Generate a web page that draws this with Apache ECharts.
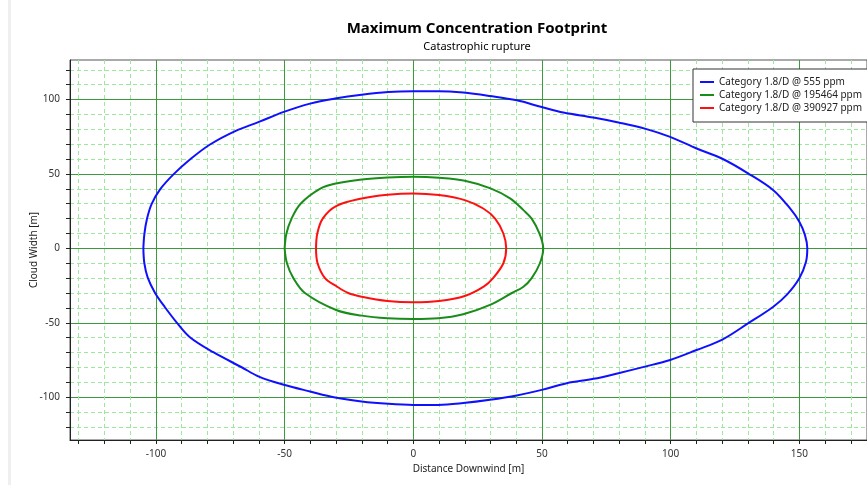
<!DOCTYPE html>
<html>
<head>
<meta charset="utf-8">
<script src="https://cdn.jsdelivr.net/npm/echarts@6/dist/echarts.min.js"></script>
<style>html,body{margin:0;padding:0;background:#fff;}#c{width:867px;height:485px;}</style>
</head>
<body>
<div id="c"></div>
<script>
const seriesNames = ['Category 1.8/D @ 555 ppm', 'Category 1.8/D @ 195464 ppm', 'Category 1.8/D @ 390927 ppm'];
const xTickValues = [-130,-120,-110,-100,-90,-80,-70,-60,-50,-40,-30,-20,-10,0,10,20,30,40,50,60,70,80,90,100,110,120,130,140,150,160,170];
const xLabelValues = [-100,-50,0,50,100,150];
const yTickValues = [-120,-110,-100,-90,-80,-70,-60,-50,-40,-30,-20,-10,0,10,20,30,40,50,60,70,80,90,100,110,120];
const yLabelValues = [-100,-50,0,50,100];

const blueX = [-104.9,-104.5,-103.5,-101.7,-98.4,-93.2,-86.8,-79,-69,-60,-50.3,-40.1,-30.4,-20.1,-9.7,0,9.7,19.4,29.8,40.2,49.9,58.3,70,79.7,90,99.8,110.1,119.9,130.2,139.9,146.4,150,152.2,153.1,152.6,150,145.1,139.9,130.2,119.9,110.1,99.8,90,79.7,70,59.6,49.9,40.2,29.8,19.4,9.7,0,-9.7,-20.1,-30.4,-40.1,-50.3,-60,-66.7,-77.7,-86.8,-92,-96.5,-100.4,-103.2,-104.5,-104.9];
const blueY = [0,9.6,19.7,29.7,39.6,49.7,59.7,69.8,79,85,91.7,97.3,100.7,103.3,105.1,105.6,105.6,104.7,102.4,99.5,95,91.3,87.9,84.6,80.5,74.9,67.1,60.4,50.3,39.1,26.8,17.9,8.9,0,-9,-20.1,-31.3,-39.2,-50.3,-61.5,-68.3,-75,-79.5,-83.9,-87.7,-90.6,-95.1,-98.9,-101.8,-104,-105.2,-105.2,-104.5,-102.9,-100.2,-96.2,-91.7,-86.2,-79.9,-69.8,-59.7,-49.7,-39.6,-29.8,-19.7,-10.1,0];
const greenX = [-50,-49.3,-47.3,-43.8,-36.3,-30,-20,-10,0,10,20,30,37.6,42.8,46,49,50.5,49.2,46,42.8,38.3,29.8,19.4,9.7,0,-10,-20,-30,-42.1,-46.6,-49.1,-50];
const greenY = [0,10,20,30,40,43.6,46.3,47.6,48.1,47.4,45.4,40.3,33.6,25.7,20,10,0,-10,-20,-25.8,-30,-38,-44.3,-47,-47.5,-47,-45.2,-41.4,-30,-20,-10,0];
const redX = [-37.8,-37.3,-35.2,-30,-20,-10,0,10,20,27.2,31.8,35,36.1,35,31,27.5,20,10,0,-10,-20,-25.3,-30,-34.3,-37.2,-37.8];
const redY = [0,10,20,28.4,33.5,36,36.9,35.8,32.4,26.8,20,10,0,-10,-20,-25.5,-32,-35.4,-36.3,-35.4,-32.5,-30,-25.3,-20,-10,0];

const zip = (xs, ys) => xs.map((x, i) => [x, ys[i]]);
const FONT = 'Noto Sans';
const X_MIN = -133.4, X_MAX = 176.3, Y_MIN = -128.8, Y_MAX = 126.6;

const chart = echarts.init(document.getElementById('c'));
const mkLine = (name, data, color) => ({
  name, type: 'line', data, xAxisIndex: 0, yAxisIndex: 0,
  symbol: 'none', smooth: 0.35, lineStyle: { color, width: 2 }, itemStyle: { color },
  z: 5, animation: false
});
chart.setOption({
  backgroundColor: '#fff',
  animation: false,
  textStyle: { fontFamily: FONT },
  graphic: [{ type: 'rect', shape: { x: 8, y: 0, width: 3, height: 485 }, style: { fill: '#efefef' }, silent: true }],
  title: [
    { text: 'Maximum Concentration Footprint', left: 472, top: 16, textAlign: 'center',
      textStyle: { fontFamily: FONT, fontSize: 15, fontWeight: 'bold', color: '#000' } },
    { text: 'Catastrophic rupture', left: 472, top: 36, textAlign: 'center',
      textStyle: { fontFamily: FONT, fontSize: 11, fontWeight: 'normal', color: '#000' } }
  ],
  legend: {
    orient: 'vertical', left: 693, top: 69,
    data: seriesNames,
    icon: 'path://M0,0 H14 V2 H0 Z', symbolKeepAspect: true,
    backgroundColor: '#fff', borderColor: '#333', borderWidth: 1, borderRadius: 0,
    padding: [8, 8, 9, 7], itemGap: 3, itemWidth: 14, itemHeight: 10,
    textStyle: { fontFamily: FONT, fontSize: 10, color: '#222' },
    z: 10
  },
  grid: { left: 70, right: 0, top: 60, bottom: 45, show: true, borderColor: '#555', borderWidth: 1, backgroundColor: '#fff' },
  xAxis: [
    { type: 'value', min: X_MIN, max: X_MAX,
      name: 'Distance Downwind [m]', nameLocation: 'middle', nameGap: 24,
      nameTextStyle: { fontFamily: FONT, fontSize: 10, color: '#222' },
      axisLine: { show: true, onZero: false, lineStyle: { color: '#222', width: 1 } },
      axisTick: { show: true, length: 4, customValues: xTickValues, lineStyle: { color: '#222' } },
      axisLabel: { customValues: xLabelValues, margin: 9, fontFamily: FONT, fontSize: 10, color: '#333' },
      splitLine: { show: true, lineStyle: { color: '#9de89d', type: [4, 3], width: 1 } }
    },
    { type: 'value', min: X_MIN, max: X_MAX, position: 'bottom',
      axisLine: { show: false }, axisLabel: { show: false },
      axisTick: { show: false, customValues: xLabelValues },
      splitLine: { show: true, lineStyle: { color: '#3c993c', width: 1 } }
    }
  ],
  yAxis: [
    { type: 'value', min: Y_MIN, max: Y_MAX,
      name: 'Cloud Width [m]', nameLocation: 'middle', nameGap: 31, nameMoveOverlap: false,
      nameTextStyle: { fontFamily: FONT, fontSize: 10, color: '#222' },
      axisLine: { show: true, onZero: false, lineStyle: { color: '#222', width: 1 } },
      axisTick: { show: true, length: 4, customValues: yTickValues, lineStyle: { color: '#222' } },
      axisLabel: { customValues: yLabelValues, margin: 10, fontFamily: FONT, fontSize: 10, color: '#333' },
      splitLine: { show: true, lineStyle: { color: '#9de89d', type: [4, 3], width: 1 } }
    },
    { type: 'value', min: Y_MIN, max: Y_MAX, position: 'left',
      axisLine: { show: false }, axisLabel: { show: false },
      axisTick: { show: false, customValues: yLabelValues },
      splitLine: { show: true, lineStyle: { color: '#3c993c', width: 1 } }
    }
  ],
  series: [
    mkLine(seriesNames[0], zip(blueX, blueY), '#1010ff'),
    mkLine(seriesNames[1], zip(greenX, greenY), '#1a8c1a'),
    mkLine(seriesNames[2], zip(redX, redY), '#ff1010')
  ]
});
</script>
</body>
</html>
